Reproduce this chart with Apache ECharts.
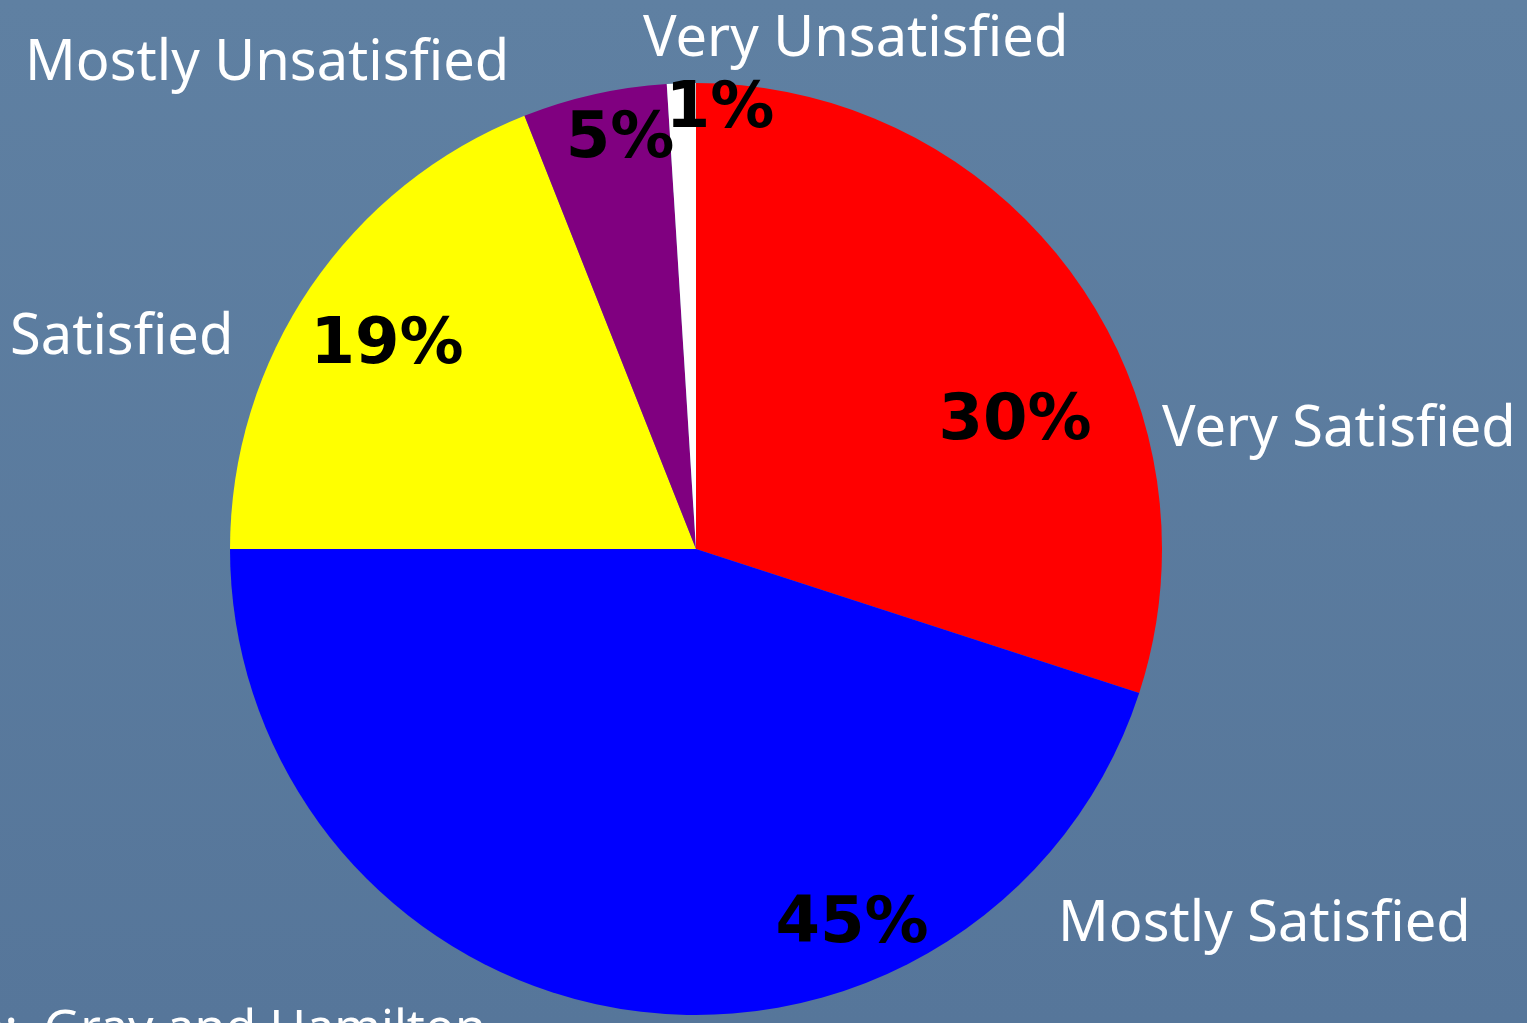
<!DOCTYPE html>
<html>
<head>
<meta charset="utf-8">
<script src="https://cdn.jsdelivr.net/npm/echarts@6/dist/echarts.min.js"></script>
<style>
  html, body { margin: 0; padding: 0; }
  #chart { width: 1527px; height: 1023px; }
</style>
</head>
<body>
<div id="chart"></div>
<script>
// data
var categories = ['Very Satisfied', 'Mostly Satisfied', 'Satisfied', 'Mostly Unsatisfied', 'Very Unsatisfied']
var values = [30, 45, 19, 5, 1]
var colors = ['#ff0000', '#0000ff', '#ffff00', '#800080', '#ffffff']
var source = 'Source:  Gray and Hamilton'

// label placement (slide layout, hand positioned)
var pctPos = [[1015, 422], [852, 925], [387, 346], [620, 140], [720, 110]]
var namePos = [[1162, 430], [1058, 925], [10, 338], [25, 64], [643, 40]]

var chart = echarts.init(document.getElementById('chart'))

var pieData = categories.map(function (name, i) {
  return { name: name, value: values[i], itemStyle: { color: colors[i] } }
})

var option = {
  animation: false,
  backgroundColor: {
    type: 'linear', x: 0, y: 0, x2: 0, y2: 1,
    colorStops: [
      { offset: 0, color: '#5f80a2' },
      { offset: 1, color: '#56769a' }
    ]
  },
  graphic: [{
    type: 'text',
    left: -156,
    top: 1006,
    style: {
      text: source,
      fill: '#ffffff',
      font: '50px "Noto Sans"'
    }
  }],
  series: [{
    name: 'pct',
    type: 'pie',
    center: [696, 549],
    radius: 466,
    startAngle: 90,
    clockwise: true,
    avoidLabelOverlap: false,
    silent: true,
    itemStyle: { borderWidth: 0 },
    emphasis: { disabled: true },
    data: pieData,
    label: {
      show: true,
      position: 'inside',
      formatter: '{c}%',
      color: '#000',
      fontFamily: 'DejaVu Sans',
      fontWeight: 'bold',
      fontSize: 64
    },
    labelLine: { show: false },
    labelLayout: function (params) {
      var p = pctPos[params.dataIndex]
      return { x: p[0], y: p[1], align: 'center', verticalAlign: 'middle' }
    }
  }, {
    name: 'names',
    type: 'pie',
    center: [696, 549],
    radius: 466,
    startAngle: 90,
    clockwise: true,
    avoidLabelOverlap: false,
    silent: true,
    z: 3,
    itemStyle: { color: 'transparent', borderWidth: 0 },
    emphasis: { disabled: true },
    data: categories.map(function (name, i) {
      return { name: name, value: values[i] }
    }),
    label: {
      show: true,
      position: 'outside',
      formatter: '{b}',
      color: '#ffffff',
      fontFamily: 'Noto Sans',
      fontSize: 56
    },
    labelLine: { show: false },
    labelLayout: function (params) {
      var p = namePos[params.dataIndex]
      return { x: p[0], y: p[1], align: 'left', verticalAlign: 'middle' }
    }
  }]
}

chart.setOption(option)
</script>
</body>
</html>
